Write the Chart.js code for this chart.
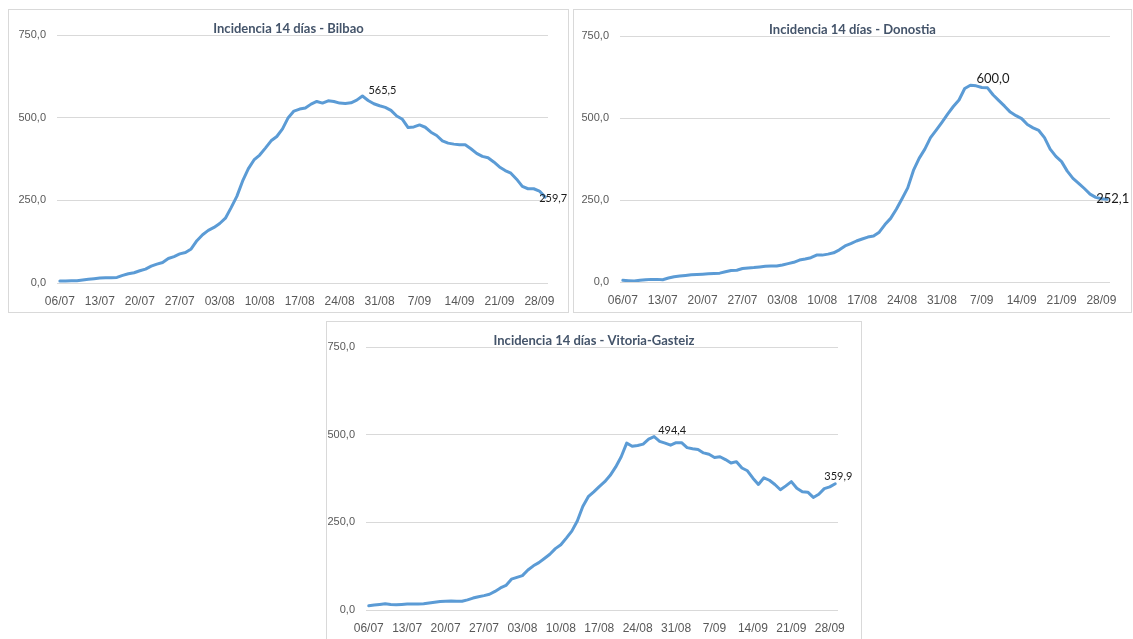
<!DOCTYPE html>
<html>
<head>
<meta charset="utf-8">
<script src="https://cdn.jsdelivr.net/npm/chart.js@4/dist/chart.umd.min.js"></script>
<style>
  body { margin: 0; background: #fff; width: 1133px; height: 639px; overflow: hidden; position: relative; }
  .box { position: absolute; border: 1px solid #d9d9d9; background: #fff; }
  .box canvas { display: block; }
</style>
</head>
<body>
<div class="box" style="left:8px;top:9px;"><canvas id="bilbao" width="559" height="302"></canvas></div>
<div class="box" style="left:573px;top:9px;"><canvas id="donostia" width="557" height="302"></canvas></div>
<div class="box" style="left:326px;top:321px;"><canvas id="vitoria" width="534" height="328"></canvas></div>
<script>
// daily dates 06/07 .. 29/09
const categories = [
  '06/07','07/07','08/07','09/07','10/07','11/07','12/07','13/07','14/07','15/07','16/07','17/07','18/07',
  '19/07','20/07','21/07','22/07','23/07','24/07','25/07','26/07','27/07','28/07','29/07','30/07','31/07',
  '01/08','02/08','03/08','04/08','05/08','06/08','07/08','08/08','09/08','10/08','11/08','12/08','13/08',
  '14/08','15/08','16/08','17/08','18/08','19/08','20/08','21/08','22/08','23/08','24/08','25/08','26/08',
  '27/08','28/08','29/08','30/08','31/08',
  '01/09','02/09','03/09','04/09','05/09','06/09','07/09','08/09','09/09','10/09','11/09','12/09','13/09',
  '14/09','15/09','16/09','17/09','18/09','19/09','20/09','21/09','22/09','23/09','24/09','25/09','26/09',
  '27/09','28/09','29/09'
];
const tickLabels = ['06/07','13/07','20/07','27/07','03/08','10/08','17/08','24/08','31/08','7/09','14/09','21/09','28/09'];
const yTicks = [0, 250, 500, 750];

const bilbao = [6,6,7,7,9,11,13,15,16,16, 17,23,28,31,37,42,51,57,62,74,
  80,88,92,103,128,146,159,168,180,196, 228,262,308,345,372,387,408,430,443,466,
  500,520,526,529,541,549,544,551,549,544, 543,545,553,565.5,552,542,536,531,522,505,
  495,470,472,478,471,456,446,430,423,420, 418,418,406,392,383,379,366,351,340,332,
  314,292,285,285,278,259.7];
const donostia = [5,4,3,5,7,8,8,7,12,16, 18,20,22,23,24,25,26,27,31,35,
  36,41,43,44,46,48,49,49,52,56, 60,67,70,74,82,82,85,89,98,110,
  117,125,131,137,140,152,175,194,222,254, 287,340,377,405,440,463,487,512,535,555,
  590,600,598,593,592,570,553,536,518,507, 498,480,470,462,440,405,383,367,338,316,
  301,285,268,258,254,252.1];
const vitoria = [12,14,16,18,16,15,16,17,17,17, 18,20,22,24,25,26,25,25,29,34,
  38,41,45,53,63,70,88,93,98,114, 126,135,147,159,175,186,205,225,254,295,
  323,337,352,366,384,408,437,476,467,469, 473,487,494.4,481,476,470,477,477,463,460,
  458,448,444,435,437,429,419,423,405,397, 376,358,377,370,358,343,354,366,347,337,
  336,321,330,346,351,359.9];

function fmt(v) { return v.toFixed(1).replace('.', ','); }

const pointLabels = {
  id: 'pointLabels',
  afterDatasetsDraw(chart, args, opts) {
    const ctx = chart.ctx;
    const meta = chart.getDatasetMeta(0);
    const data = chart.data.datasets[0].data;
    ctx.save();
    // title, sitting on the top gridline
    ctx.font = 'bold 13px Lato';
    ctx.fillStyle = '#44546a';
    ctx.textAlign = 'center';
    ctx.textBaseline = 'middle';
    ctx.fillText(opts.title, chart.width / 2, chart.chartArea.top - 6);
    // value labels
    ctx.font = opts.size + 'px Lato';
    ctx.fillStyle = '#1a1a1a';
    opts.labels.forEach(l => {
      const p = meta.data[l.i];
      ctx.textAlign = l.align;
      ctx.fillText(fmt(data[l.i]), p.x + l.dx, p.y + l.dy);
    });
    ctx.restore();
  }
};

function makeChart(id, values, g, title, size, labels) {
  return new Chart(document.getElementById(id), {
    type: 'line',
    data: {
      labels: categories,
      datasets: [{
        data: values,
        borderColor: '#5b9bd5',
        borderWidth: 3,
        pointRadius: 0,
        tension: 0,
        borderJoinStyle: 'round',
        borderCapStyle: 'round',
        fill: false
      }]
    },
    options: {
      responsive: false,
      animation: false,
      layout: { padding: { top: g.top, right: g.right, left: 0, bottom: 0 } },
      plugins: {
        legend: { display: false },
        tooltip: { enabled: false },
        pointLabels: { title: title, size: size, labels: labels }
      },
      scales: {
        x: {
          offset: true,
          grid: { display: false },
          border: { display: false },
          ticks: {
            autoSkip: false, maxRotation: 0, padding: 3,
            color: '#595959', font: { family: 'Liberation Sans', size: 12 },
            callback: (v, i) => i % 7 === 0 ? tickLabels[i / 7] : null
          },
          afterFit: s => { s.height = g.xh; }
        },
        y: {
          min: 0, max: 750,
          afterBuildTicks: s => { s.ticks = yTicks.map(v => ({ value: v })); },
          grid: { color: '#d9d9d9', drawTicks: false },
          border: { display: false },
          ticks: {
            padding: 11, color: '#595959', font: { family: 'Liberation Sans', size: 11 },
            callback: v => fmt(v)
          },
          afterFit: s => { s.width = g.left; }
        }
      }
    },
    plugins: [pointLabels]
  });
}

makeChart('bilbao', bilbao, { left: 48, right: 20, top: 25, xh: 29 },
  'Incidencia 14 días - Bilbao', 11,
  [{ i: 53, dx: 6, dy: -6, align: 'left' }, { i: 85, dx: -6, dy: 1, align: 'left' }]);
makeChart('donostia', donostia, { left: 46, right: 21, top: 26, xh: 30 },
  'Incidencia 14 días - Donostia', 13,
  [{ i: 61, dx: 6, dy: -6, align: 'left' }, { i: 85, dx: -11, dy: 0, align: 'left' }]);
makeChart('vitoria', vitoria, { left: 39, right: 23, top: 25, xh: 40 },
  'Incidencia 14 días - Vitoria-Gasteiz', 11,
  [{ i: 52, dx: 4, dy: -6, align: 'left' }, { i: 85, dx: 3, dy: -7, align: 'center' }]);
</script>
</body>
</html>
